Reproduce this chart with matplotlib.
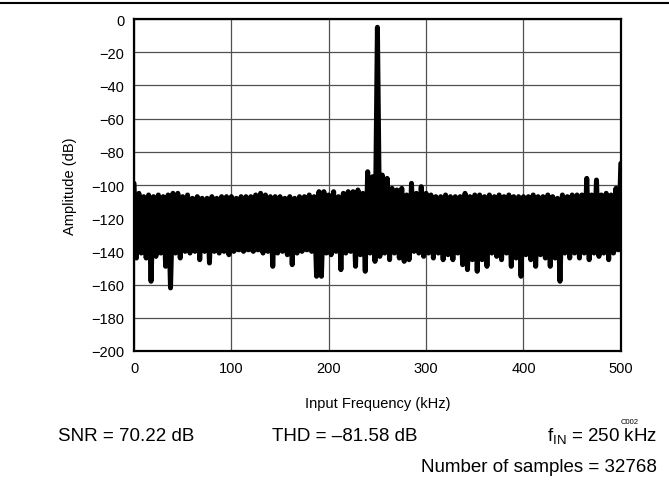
import matplotlib
matplotlib.use("Agg")
import matplotlib.pyplot as plt
from matplotlib.lines import Line2D
import numpy as np

plt.rcParams["font.family"] = ["Liberation Sans", "DejaVu Sans"]

# upper envelope of the spectrum, one value every 5 kHz (0..500)
UPPER_DB = [
    -99, -105, -107, -106, -107, -106, -107, -106, -105, -105,
    -107, -106, -108, -107, -108, -108, -107, -108, -107, -107,
    -107, -108, -107, -107, -107, -106, -105, -106, -107, -107,
    -107, -108, -107, -108, -107, -107, -106, -107, -104, -104,
    -106, -104, -107, -105, -104, -104, -103, -105, -92, -95,
    -5, -94, -96, -102, -103, -102, -106, -99, -105, -101,
    -105, -106, -107, -107, -106, -107, -107, -107, -105, -107,
    -106, -106, -107, -106, -107, -106, -107, -106, -107, -107,
    -107, -107, -106, -107, -107, -106, -107, -108, -106, -107,
    -106, -106, -106, -96, -106, -97, -106, -105, -106, -102,
    -87,
]
# lower envelope, one value every 5 kHz (2.5..497.5)
LOWER_DB = [
    -144, -141, -144, -158, -143, -141, -149, -162, -141, -144,
    -140, -141, -140, -145, -140, -147, -140, -141, -140, -142,
    -140, -139, -140, -139, -140, -139, -141, -140, -149, -141,
    -140, -142, -148, -141, -140, -139, -140, -155, -155, -141,
    -142, -140, -151, -141, -140, -149, -142, -152, -141, -146,
    -143, -141, -145, -141, -144, -146, -145, -140, -141, -143,
    -141, -144, -141, -145, -142, -145, -141, -148, -151, -145,
    -152, -145, -149, -141, -143, -145, -141, -149, -144, -155,
    -142, -145, -149, -142, -144, -149, -144, -158, -141, -144,
    -141, -144, -141, -145, -141, -143, -141, -145, -141, -139,
]
STEP_KHZ = 5.0

upper_f = np.arange(len(UPPER_DB)) * STEP_KHZ
lower_f = np.arange(len(LOWER_DB)) * STEP_KHZ + STEP_KHZ / 2
freq = np.empty(len(upper_f) + len(lower_f))
amp = np.empty_like(freq)
freq[0::2], amp[0::2] = upper_f, UPPER_DB
freq[1::2], amp[1::2] = lower_f, LOWER_DB

fig = plt.figure(figsize=(6.69, 4.81), dpi=100)
ax = fig.add_axes([0.2003, 0.2682, 0.7277, 0.6902])

ax.plot(freq, amp, color="black", lw=3.6, solid_joinstyle="round",
        solid_capstyle="round", zorder=3)

ax.set_xlim(0, 500)
ax.set_ylim(-200, 0)
ax.set_xticks(range(0, 501, 100))
ax.set_yticks(range(-200, 1, 20))
ax.grid(True, color="#505050", lw=0.9)
ax.tick_params(length=0, labelsize=10.5, pad=7)
for s in ax.spines.values():
    s.set_linewidth(1.6)
    s.set_zorder(5)

ax.set_xlabel("Input Frequency (kHz)", fontsize=10.5, labelpad=15)
ax.set_ylabel("Amplitude (dB)", fontsize=10.5, labelpad=10)

fig.add_artist(Line2D([0, 1], [1 - 4 / 481, 1 - 4 / 481], color="black", lw=1.5))
fig.text(630 / 669, 1 - 423 / 481, "C002", fontsize=5.5, ha="center", va="center")
fig.text(58 / 669, 1 - 437 / 481, "SNR = 70.22 dB", fontsize=13.5, ha="left", va="center")
fig.text(272 / 669, 1 - 437 / 481, "THD = \u201381.58 dB", fontsize=13.5, ha="left", va="center")
fig.text(657 / 669, 1 - 437 / 481, r"f$_\mathregular{IN}$ = 250 kHz", fontsize=13.5,
         ha="right", va="center")
fig.text(657 / 669, 1 - 468 / 481, "Number of samples = 32768", fontsize=13.5,
         ha="right", va="center")

fig.savefig("out.png", dpi=100)
